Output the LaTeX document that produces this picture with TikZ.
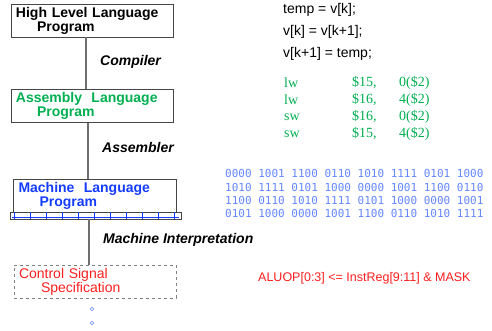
\documentclass[tikz,border=0pt]{standalone}
\usepackage{fontspec}
\setmainfont{Liberation Sans}
\newfontfamily\timesfont{Liberation Serif}
\newfontfamily\binfont{DejaVu Sans Mono}
\usepackage{tikz}
\usetikzlibrary{shapes}
\definecolor{boxgray}{RGB}{70,70,70}
\definecolor{linegray}{RGB}{110,110,110}
\definecolor{asmgreen}{RGB}{0,175,80}
\definecolor{mlblue}{RGB}{20,60,255}
\definecolor{binblue}{RGB}{100,135,255}
\definecolor{ctlred}{RGB}{255,30,30}
\tikzstyle{box} = [draw=boxgray, line width=0.9pt, minimum width=162pt, minimum height=33pt,
  text width=152pt, inner xsep=5pt, inner ysep=0pt, align=left,
  font=\fontsize{14}{14}\selectfont]
\tikzstyle{link} = [draw=linegray, line width=1.4pt]
\tikzstyle{step label} = [anchor=west, inner sep=0pt, font=\bfseries\itshape\fontsize{14}{14}\selectfont]
\tikzstyle{code} = [anchor=west, inner sep=0pt, font=\fontsize{14}{14}\selectfont]
\tikzstyle{asm} = [anchor=west, inner sep=0pt, text=asmgreen, font=\timesfont\fontsize{14}{14}\selectfont]
\tikzstyle{bin} = [anchor=west, inner sep=0pt, text=binblue, font=\binfont\fontsize{11}{11}\selectfont]
\tikzstyle{dot} = [circle, draw=binblue, line width=0.6pt, minimum size=3.5pt, inner sep=0pt]

\begin{document}
\begin{tikzpicture}[x=1pt, y=-1pt]
		\useasboundingbox (0,0) rectangle (492,331);
		% the four levels
		\node[box, font=\bfseries\fontsize{14}{14}\selectfont] (hll) at (92,20.5)
		    {High Level Language\\\hspace*{21pt}Program};
		\node[box, text=asmgreen, font=\bfseries\fontsize{14}{14}\selectfont] (asmprog) at (92,106)
		    {Assembly\ \ Language\\\hspace*{21pt}Program};
		\node[box, text=mlblue, minimum width=163pt, font=\bfseries\fontsize{14}{14}\selectfont] (mlprog) at (94.5,195.5)
		    {Machine\ \ Language\\\hspace*{21pt}Program};
		\node[draw=boxgray, line width=0.9pt, minimum width=171pt, minimum height=7pt, inner sep=0pt] (bar) at (95.5,215.5) {};
		\draw[mlblue, line width=0.8pt] ([xshift=2pt,yshift=2pt]bar.south west) -- ([xshift=-2pt,yshift=2pt]bar.south east);
		\foreach \i in {0,...,10}
		    \draw[mlblue, line width=0.8pt] ([xshift=5+16*\i]bar.north west) -- ([xshift=5+16*\i]bar.south west);
		\node[box, dashed, draw=gray, text=ctlred] (ctl) at (95,281.5)
		    {Control Signal\\\hspace*{22pt}Specification};
		\node[dot] (d1) at (92,309) {};
		\node[dot] (d2) at (92,323) {};
		% connectors
		\path[link] ([xshift=-6pt]hll.south) -- ([xshift=-6pt]asmprog.north);
		\path[link] ([xshift=-4pt]asmprog.south) -- ([xshift=-6.5pt]mlprog.north);
		\path[link] ([xshift=-6.5pt]bar.south) -- ([xshift=-6pt]ctl.north);
		% translation steps
		\node[step label] (comp) at (100,62) {Compiler};
		\node[step label] (assem) at (102,147) {Assembler};
		\node[step label] (interp) at (103,240) {Machine Interpretation};
		% high level code
		\node[code] (c1) at (283,10) {temp = v[k];};
		\node[code] (c2) at (283,32) {v[k] = v[k+1];};
		\node[code] (c3) at (283,54) {v[k+1] = temp;};
		% assembly code
		\foreach \y/\op/\rg/\ad in {83/lw/15/0, 100/lw/16/4, 117/sw/16/0, 134/sw/15/4} {
		    \node[asm] at (284,\y) {\op};
		    \node[asm] at (352,\y) {\$\rg,};
		    \node[asm] at (399,\y) {\ad(\$2)};
		}
		% machine code
		\node[bin] (b1) at (225,173) {0000 1001 1100 0110 1010 1111 0101 1000};
		\node[bin] (b2) at (225,187) {1010 1111 0101 1000 0000 1001 1100 0110};
		\node[bin] (b3) at (225,200) {1100 0110 1010 1111 0101 1000 0000 1001};
		\node[bin] (b4) at (225,213) {0101 1000 0000 1001 1100 0110 1010 1111};
		% control signals
		\node[code, text=ctlred, font=\fontsize{12.5}{12.5}\selectfont] (alu) at (258,278) {ALUOP[0:3] <= InstReg[9:11] \& MASK};
\end{tikzpicture}
\end{document}
